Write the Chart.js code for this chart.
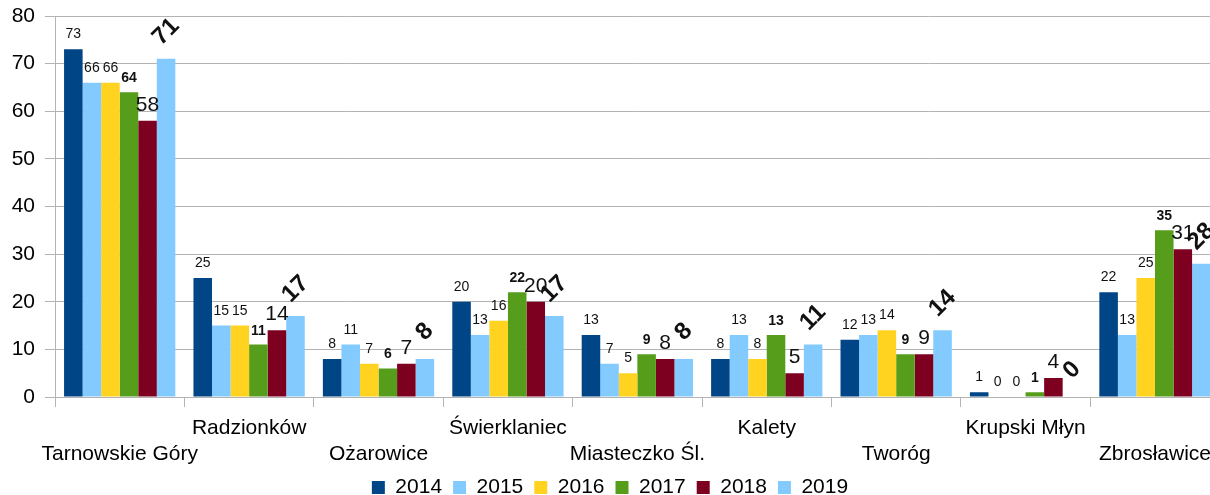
<!DOCTYPE html>
<html>
<head>
<meta charset="utf-8">
<script src="https://cdn.jsdelivr.net/npm/chart.js@4.4.1/dist/chart.umd.min.js"></script>
<style>
  html, body { margin: 0; padding: 0; background: #fff; overflow: hidden; }
  #wrap { width: 1210px; height: 495px; overflow: hidden; }
</style>
</head>
<body>
<div id="wrap"><canvas id="gminyChart" width="1220" height="495"></canvas></div>
<script>
const gminy = [
    ['', 'Tarnowskie Góry'],
    ['Radzionków', ''],
    ['', 'Ożarowice'],
    ['Świerklaniec', ''],
    ['', 'Miasteczko Śl.'],
    ['Kalety', ''],
    ['', 'Tworóg'],
    ['Krupski Młyn', ''],
    ['', 'Zbrosławice']
];
const years = ['2014', '2015', '2016', '2017', '2018', '2019'];
const data2014 = [73, 25, 8, 20, 13, 8, 12, 1, 22];
const data2015 = [66, 15, 11, 13, 7, 13, 13, 0, 13];
const data2016 = [66, 15, 7, 16, 5, 8, 14, 0, 25];
const data2017 = [64, 11, 6, 22, 9, 13, 9, 1, 35];
const data2018 = [58, 14, 7, 20, 8, 5, 9, 4, 31];
const data2019 = [71, 17, 8, 17, 8, 11, 14, 0, 28];
const yTicks = [0, 10, 20, 30, 40, 50, 60, 70, 80];

const seriesValues = [data2014, data2015, data2016, data2017, data2018, data2019];
const seriesColors = ['#004586', '#83caff', '#ffd320', '#579d1c', '#7e0021', '#83caff'];

// label look for each year (LibreOffice export had different fonts per series)
const labelStyles = [
    { font: '14px "Liberation Sans"', gap: 11 },
    { font: '14px "Liberation Sans"', gap: 11 },
    { font: '14px "Liberation Sans"', gap: 11 },
    { font: 'bold 14px "Liberation Sans"', gap: 10 },
    { font: '21px "Liberation Sans"', gap: 10 },
    { font: 'bold 24px "Liberation Sans"', gap: 27, rotate: true }
];

const barLabels = {
    id: 'barLabels',
    afterDatasetsDraw(chart) {
        const ctx = chart.ctx;
        ctx.save();
        ctx.fillStyle = '#111';
        chart.data.datasets.forEach((ds, i) => {
            const meta = chart.getDatasetMeta(i);
            const st = labelStyles[i];
            ctx.font = st.font;
            meta.data.forEach((bar, j) => {
                const txt = String(ds.data[j]);
                if (st.rotate) {
                    ctx.save();
                    ctx.translate(bar.x, bar.y - st.gap);
                    ctx.rotate(-Math.PI / 4);
                    ctx.textAlign = 'center';
                    ctx.textBaseline = 'middle';
                    ctx.fillText(txt, 0, 0);
                    ctx.restore();
                } else {
                    ctx.textAlign = 'center';
                    ctx.textBaseline = 'alphabetic';
                    ctx.fillText(txt, bar.x, bar.y - st.gap);
                }
            });
        });
        ctx.restore();
    }
};

const ctx = document.getElementById('gminyChart').getContext('2d');
new Chart(ctx, {
    type: 'bar',
    data: {
        labels: gminy,
        datasets: years.map((year, index) => ({
            label: year,
            data: seriesValues[index],
            backgroundColor: seriesColors[index],
            borderWidth: 0,
            categoryPercentage: 0.86,
            barPercentage: 1.0
        }))
    },
    options: {
        responsive: false,
        animation: false,
        layout: { padding: { top: 16, right: 0, left: 0, bottom: -13 } },
        plugins: {
            legend: {
                display: true,
                position: 'bottom',
                labels: {
                    boxWidth: 13,
                    boxHeight: 13,
                    padding: 11,
                    color: '#000',
                    font: { family: 'Liberation Sans', size: 21 }
                }
            },
            tooltip: { enabled: false }
        },
        scales: {
            x: {
                afterFit: (scale) => { scale.height = 69; },
                grid: { display: true, drawOnChartArea: false, tickLength: 10, color: '#b3b3b3', offset: true },
                border: { display: true, color: '#b3b3b3' },
                ticks: {
                    autoSkip: false,
                    maxRotation: 0,
                    minRotation: 0,
                    padding: 9,
                    color: '#000',
                    font: { family: 'Liberation Sans', size: 21, lineHeight: 1.2 }
                }
            },
            y: {
                min: yTicks[0],
                max: yTicks[yTicks.length - 1],
                afterFit: (scale) => { scale.width = 55; scale.paddingTop = 0; scale.paddingBottom = 0; },
                afterBuildTicks: (scale) => { scale.ticks = yTicks.map(v => ({ value: v })); },
                grid: { color: '#b3b3b3', tickLength: 10 },
                border: { display: true, color: '#b3b3b3' },
                ticks: {
                    padding: 10,
                    color: '#000',
                    font: { family: 'Liberation Sans', size: 21 }
                }
            }
        }
    },
    plugins: [barLabels]
});
</script>
</body>
</html>
